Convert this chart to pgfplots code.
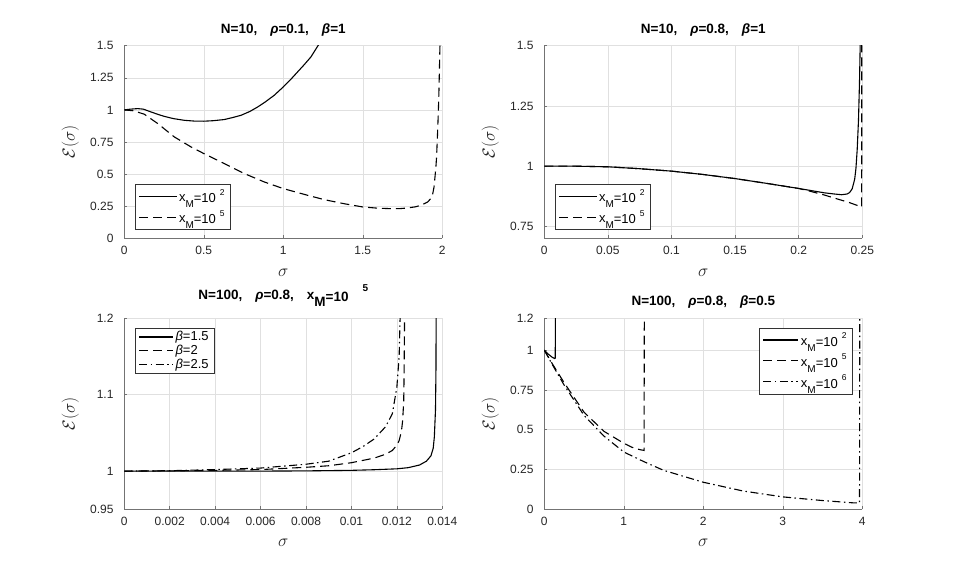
\documentclass[border=0pt]{standalone}
\usepackage{fontspec}
\setmainfont{Liberation Sans}
\usepackage{pgfplots}
\pgfplotsset{compat=1.18}
\tikzset{
  mydash/.style={dash pattern=on 9pt off 5pt},
  mydashdot/.style={dash pattern=on 8pt off 3.5pt on 1.5pt off 3.5pt},
}
\pgfplotsset{
  myax/.style={
    scale only axis, width=318pt, height=192.6pt,
    axis x line*=bottom, axis y line*=left,
    axis line style={black!55, line width=0.6pt},
    tick align=inside, major tick length=3pt,
    tick style={black!55, line width=0.5pt},
    grid=major, grid style={black!12, line width=0.5pt},
    ticklabel style={font=\fontsize{12}{14}\selectfont, text=black!85},
    /pgf/number format/assume math mode=true,
    /pgf/number format/fixed, /pgf/number format/precision=3,
    scaled x ticks=false, scaled y ticks=false,
    xticklabel style={yshift=-4.7pt},
    yticklabel style={xshift=-7.3pt},
    title style={at={(0.5,1)}, anchor=base, yshift=6.4pt, font=\bfseries\fontsize{13.5}{16}\selectfont},
    xlabel={$\sigma$}, ylabel={$\mathcal{E}(\sigma)$},
    xlabel style={at={(axis description cs:0.5,-0.177)}, anchor=center, font=\fontsize{16}{19}\selectfont, text=black!85},
    ylabel style={at={(axis description cs:-0.17,0.5)}, anchor=center, font=\fontsize{16.5}{20}\selectfont, text=black!85},
    legend style={draw=black!80, line width=0.5pt, fill=white, font=\fontsize{13}{15}\selectfont,
      inner xsep=3.5pt, inner ysep=3pt, row sep=3pt, column sep=0pt,
      cells={anchor=west}},
    legend cell align=left,
    legend image code/.code={\draw[#1] (0pt,0pt) -- (37.5pt,0pt);},
    every axis plot/.append style={line width=1.1pt, black, no markers},
  }
}
\newcommand{\xM}[1]{x\raisebox{-6pt}{\fontsize{10}{12}\selectfont M}\raisebox{-1pt}{=10}\hspace{4pt}\raisebox{6.5pt}{\fontsize{8.5}{10}\selectfont #1}}
\newcommand{\gap}{\hspace{13pt}}
\begin{document}
\begin{tikzpicture}[x=1pt,y=1pt]
\path[use as bounding box] (0,0) rectangle (955,-573);

% Top-left
\begin{axis}[myax, at={(124.3pt,-45.7pt)}, anchor=north west,
  xmin=0, xmax=2, ymin=0, ymax=1.5,
  xtick={0,0.5,1,1.5,2}, ytick={0,0.25,0.5,0.75,1,1.25,1.5},
  title={N=10,\gap\textit{ρ}=0.1,\gap\textit{β}=1},
  legend style={at={(0,0)}, anchor=south west, xshift=10.4pt, yshift=9pt}]
\addplot[black, solid] coordinates {(0,1) (0.04,1.006) (0.084,1.01) (0.12,1.006) (0.168,0.984) (0.21,0.966) (0.25,0.95) (0.31,0.932) (0.377,0.919) (0.44,0.913) (0.5,0.912) (0.56,0.916) (0.629,0.925) (0.68,0.94) (0.734,0.958) (0.79,0.988) (0.839,1.023) (0.89,1.065) (0.943,1.114) (1.0,1.179) (1.045,1.235) (1.09,1.296) (1.13,1.35) (1.174,1.413) (1.216,1.496) (1.23,1.52)};
\addlegendentry{\xM{2}}
\addplot[black, mydash] coordinates {(0,1) (0.06,0.993) (0.126,0.966) (0.21,0.894) (0.314,0.79) (0.419,0.712) (0.5,0.66) (0.629,0.582) (0.755,0.504) (0.88,0.439) (1.0,0.387) (1.153,0.335) (1.258,0.301) (1.38,0.27) (1.5,0.244) (1.6,0.234) (1.677,0.231) (1.73,0.231) (1.78,0.236) (1.83,0.245) (1.866,0.257) (1.908,0.283) (1.928,0.31) (1.94,0.348) (1.948,0.4) (1.954,0.478) (1.96,0.56) (1.964,0.634) (1.97,0.815) (1.975,0.98) (1.979,1.153) (1.985,1.49) (1.986,1.52)};
\addlegendentry{\xM{5}}
\end{axis}

% Top-right
\begin{axis}[myax, at={(544.3pt,-45.7pt)}, anchor=north west,
  xmin=0, xmax=0.25, ymin=0.7, ymax=1.5,
  xtick={0,0.05,0.1,0.15,0.2,0.25}, ytick={0.75,1,1.25,1.5},
  title={N=10,\gap\textit{ρ}=0.8,\gap\textit{β}=1},
  legend style={at={(0,0)}, anchor=south west, xshift=10.4pt, yshift=9pt}]
\addplot[black, solid] coordinates {(0,1) (0.025,0.9995) (0.05,0.997) (0.075,0.989) (0.1,0.979) (0.125,0.965) (0.15,0.948) (0.175,0.928) (0.2,0.907) (0.21,0.898) (0.22,0.889) (0.228,0.884) (0.2338,0.881) (0.238,0.884) (0.24,0.89) (0.242,0.905) (0.244,0.945) (0.245,0.99) (0.246,1.07) (0.247,1.19) (0.2478,1.35) (0.2484,1.52)};
\addlegendentry{\xM{2}}
\addplot[black, mydash] coordinates {(0,1) (0.025,0.9995) (0.05,0.997) (0.075,0.989) (0.1,0.979) (0.125,0.965) (0.15,0.948) (0.175,0.928) (0.2,0.907) (0.21,0.894) (0.22,0.880) (0.23,0.864) (0.24,0.848) (0.2495,0.830) (0.2496,1.52)};
\addlegendentry{\xM{5}}
\end{axis}

% Bottom-left
\begin{axis}[myax, height=191pt, at={(124.3pt,-318.3pt)}, anchor=north west,
  xmin=0, xmax=0.014, ymin=0.95, ymax=1.2,
  xtick={0,0.002,0.004,0.006,0.008,0.01,0.012,0.014}, ytick={0.95,1,1.1,1.2},
  xticklabels={0,0.002,0.004,0.006,0.008,0.01,0.012,0.014},
  yticklabels={0.95,1,1.1,1.2},
  title style={yshift=6.2pt},
  title={N=100,\gap\textit{ρ}=0.8,\gap x\raisebox{-7pt}{M}\raisebox{-2pt}{=10}\hspace{14pt}\raisebox{8pt}{\fontsize{10}{12}\selectfont 5}},
  legend image code/.code={\draw[#1] (0pt,0pt) -- (34pt,0pt);},
  legend style={at={(0,1)}, anchor=north west, xshift=10.4pt, yshift=-10pt, row sep=-1pt, inner ysep=1pt}]
\addplot[black, solid] coordinates {(0,1) (0.002,1) (0.004,1) (0.006,1) (0.008,1.0003) (0.01,1.001) (0.011,1.0018) (0.012,1.003) (0.0125,1.0045) (0.013,1.008) (0.0133,1.013) (0.0135,1.02) (0.0136,1.03) (0.01365,1.045) (0.0137,1.08) (0.01372,1.13) (0.01373,1.21)};
\addlegendentry{\textit{β}=1.5}
\addplot[black, mydash] coordinates {(0,1) (0.002,1.0003) (0.004,1.001) (0.006,1.002) (0.008,1.005) (0.009,1.007) (0.01,1.011) (0.011,1.017) (0.0115,1.022) (0.0118,1.027) (0.012,1.034) (0.0121,1.04) (0.0122,1.052) (0.01225,1.065) (0.0123,1.09) (0.01232,1.13) (0.01234,1.21)};
\addlegendentry{\textit{β}=2}
\addplot[black, mydashdot] coordinates {(0,1) (0.002,1.0005) (0.004,1.002) (0.006,1.004) (0.008,1.009) (0.009,1.013) (0.01,1.024) (0.0105,1.032) (0.011,1.042) (0.0115,1.058) (0.0118,1.075) (0.012,1.11) (0.0121,1.15) (0.01215,1.21)};
\addlegendentry{\textit{β}=2.5}
\end{axis}

% Bottom-right
\begin{axis}[myax, height=191pt, at={(544.3pt,-318.3pt)}, anchor=north west,
  xmin=0, xmax=4, ymin=0, ymax=1.2,
  xtick={0,1,2,3,4}, ytick={0,0.25,0.5,0.75,1,1.2},
  yticklabels={0,0.25,0.5,0.75,1,1.2},
  title={N=100,\gap\textit{ρ}=0.8,\gap\textit{β}=0.5},
  legend image code/.code={\draw[#1] (0pt,0pt) -- (35pt,0pt);},
  legend style={at={(1,1)}, anchor=north east, xshift=-10pt, yshift=-9.5pt}]
\addplot[black, solid] coordinates {(0,1) (0.05,0.975) (0.1,0.955) (0.13,0.947) (0.138,0.95) (0.139,1.21)};
\addlegendentry{\xM{2}}
\addplot[black, mydash] coordinates {(0,1) (0.1,0.915) (0.25,0.795) (0.5,0.61) (0.75,0.49) (1.0,0.415) (1.1,0.39) (1.2,0.375) (1.255,0.37) (1.258,1.21)};
\addlegendentry{\xM{5}}
\addplot[black, mydashdot] coordinates {(0,1) (0.1,0.91) (0.25,0.78) (0.5,0.59) (0.75,0.46) (1.0,0.36) (1.25,0.30) (1.5,0.245) (2,0.17) (2.5,0.115) (3,0.078) (3.5,0.055) (3.9,0.04) (3.965,0.04) (3.968,1.21)};
\addlegendentry{\xM{6}}
\end{axis}
\end{tikzpicture}
\end{document}
